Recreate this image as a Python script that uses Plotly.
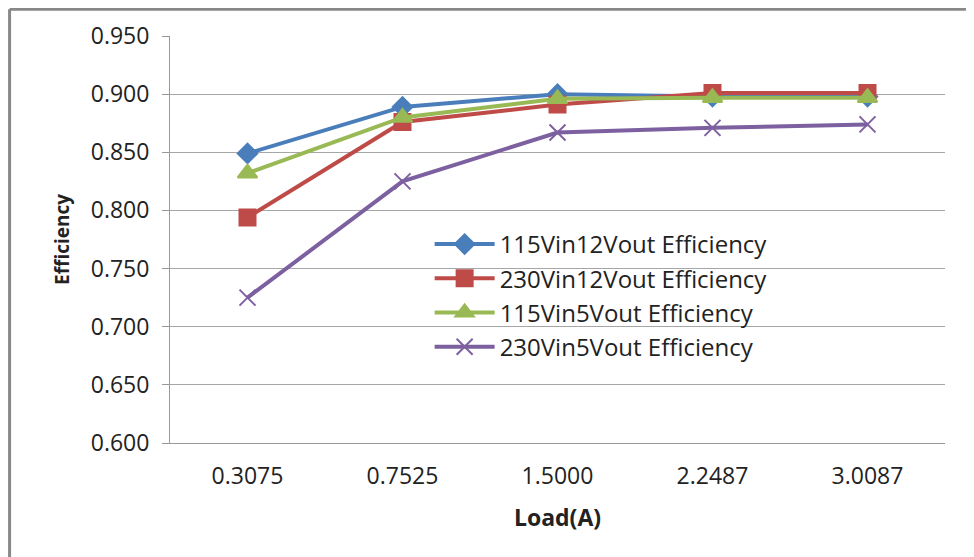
import plotly.graph_objects as go

loads = ['0.3075', '0.7525', '1.5000', '2.2487', '3.0087']
eff_115v_12v = [0.849, 0.889, 0.900, 0.898, 0.898]
eff_230v_12v = [0.794, 0.876, 0.891, 0.901, 0.901]
eff_115v_5v = [0.832, 0.880, 0.896, 0.897, 0.897]
eff_230v_5v = [0.725, 0.825, 0.867, 0.871, 0.874]

series = [
    ('115Vin12Vout Efficiency', eff_115v_12v, '#4A7EBB', 'diamond', 15),
    ('230Vin12Vout Efficiency', eff_230v_12v, '#BE4B48', 'square', 16),
    ('115Vin5Vout Efficiency', eff_115v_5v, '#98B954', 'triangle-up', 17),
    ('230Vin5Vout Efficiency', eff_230v_5v, '#7D60A0', 'x-thin-open', 16),
]

fig = go.Figure()
for name, y, clr, sym, size in series:
    mark = dict(symbol=sym, size=size, color=clr, line=dict(color=clr, width=2))
    fig.add_trace(go.Scatter(name=name, x=loads, y=y, mode='lines+markers',
                             line=dict(color=clr, width=4), marker=mark))

font = 'Open Sans, sans-serif'
# the page adds an 8px body margin, so the figure is 8px smaller
fig.update_layout(
    width=966, height=549,
    paper_bgcolor='white', plot_bgcolor='white',
    margin=dict(l=162, r=29, t=28, b=114),
    font=dict(family=font, size=20, color='#222'),
    legend=dict(x=0.335, y=0.543, xanchor='left', yanchor='top',
                bgcolor='rgba(0,0,0,0)', font=dict(size=24, color='#222'),
                tracegroupgap=0, itemwidth=60),
    shapes=[
        dict(type='line', xref='paper', yref='paper', x0=-0.207, x1=1.05,
             y0=1.066, y1=1.066, line=dict(color='#888', width=3)),
        dict(type='line', xref='paper', yref='paper', x0=-0.207, x1=-0.207,
             y0=1.066, y1=-0.3, line=dict(color='#888', width=3)),
    ],
)
fig.update_xaxes(
    type='category', range=[-0.5, 4.5],
    showgrid=False, showline=True, linecolor='#999', linewidth=1,
    ticks='', tickfont=dict(size=23), ticklabelstandoff=12,
    title=dict(text='<b>Load(A)</b>', font=dict(size=23), standoff=20),
)
fig.update_yaxes(
    range=[0.6, 0.95], dtick=0.05, tickformat='.3f',
    showgrid=True, gridcolor='#A6A6A6', gridwidth=1,
    showline=True, linecolor='#999', linewidth=1,
    ticks='outside', ticklen=7, tickcolor='#999',
    tickfont=dict(size=23), ticklabelstandoff=8,
    title=dict(text='<b>Efficiency</b>', font=dict(size=19), standoff=16),
)

fig.write_html('out.html')
